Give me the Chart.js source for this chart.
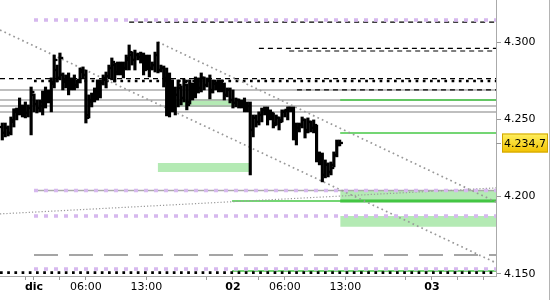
<!DOCTYPE html>
<html>
<head>
<meta charset="utf-8">
<script src="https://cdn.jsdelivr.net/npm/chart.js@4.4.0/dist/chart.umd.min.js"></script>
<style>
  html, body { margin: 0; padding: 0; background: #fff; }
  #wrap { width: 550px; height: 300px; box-sizing: border-box; border-right: 1px solid #b4b4b4; }
  canvas { display: block; }
</style>
</head>
<body>
<div id="wrap"><canvas id="chart" width="549" height="300" style="width:549px;height:300px"></canvas></div>
<script>
// 20-minute bars, time in trading hours from 1 Dec 00:00 (23 trading hours per day)
const firstBarHour = -11 / 3;
const barStep = 1 / 3;

const opens = [4245.0, 4241.2, 4244.4, 4241.2, 4248.3, 4254.8, 4256.1, 4257.3, 4256.1, 4254.1,
  4257.3, 4265.8, 4259.9, 4257.3, 4258.6, 4263.8, 4265.8, 4262.5, 4274.2, 4281.9,
  4276.8, 4278.7, 4275.5, 4276.8, 4272.2, 4275.5, 4272.2, 4275.5, 4280.6, 4278.7,
  4252.8, 4261.2, 4263.8, 4267.7, 4272.2, 4273.5, 4275.5, 4278.0, 4283.2, 4285.1,
  4280.6, 4284.5, 4281.9, 4283.2, 4288.4, 4291.6, 4288.4, 4291.6, 4290.3, 4289.7,
  4283.2, 4288.4, 4283.2, 4285.1, 4291.6, 4281.9, 4283.2, 4276.8, 4262.5, 4270.3,
  4262.5, 4265.8, 4270.3, 4263.8, 4272.2, 4261.2, 4272.2, 4267.7, 4275.5, 4270.3,
  4276.8, 4272.2, 4275.5, 4269.0, 4272.9, 4271.6, 4274.2, 4270.3, 4265.8, 4269.0,
  4262.5, 4260.6, 4262.5, 4259.3, 4260.6, 4257.3, 4258.6, 4243.1, 4250.9, 4248.3,
  4252.8, 4256.1, 4254.8, 4250.9, 4252.8, 4247.6, 4250.9, 4249.6, 4254.8, 4256.1,
  4257.3, 4256.1, 4239.9, 4244.4, 4246.3, 4249.6, 4243.1, 4248.3, 4244.4, 4244.4,
  4226.9, 4223.7, 4214.0, 4220.5, 4215.9, 4220.5, 4226.9, 4233.4];
const highs = [4247.6, 4247.6, 4245.7, 4251.5, 4256.8, 4257.3, 4263.8, 4259.3, 4261.2, 4259.3,
  4270.9, 4266.4, 4262.5, 4262.5, 4268.3, 4270.9, 4269.0, 4276.8, 4291.6, 4285.1,
  4292.9, 4280.0, 4278.7, 4280.0, 4276.8, 4278.7, 4275.5, 4283.2, 4283.9, 4281.9,
  4265.8, 4267.0, 4270.3, 4275.5, 4275.5, 4278.7, 4280.6, 4285.1, 4289.7, 4286.4,
  4287.1, 4287.1, 4287.1, 4291.6, 4298.1, 4293.5, 4294.8, 4292.9, 4293.5, 4292.9,
  4291.6, 4291.6, 4287.1, 4293.5, 4300.0, 4285.1, 4284.5, 4283.2, 4280.0, 4275.5,
  4270.9, 4275.5, 4271.6, 4276.1, 4272.9, 4275.5, 4273.5, 4277.4, 4276.8, 4280.0,
  4277.4, 4276.8, 4278.7, 4275.5, 4274.2, 4275.5, 4275.5, 4273.5, 4270.3, 4270.3,
  4269.0, 4263.8, 4263.2, 4262.5, 4263.8, 4261.2, 4261.2, 4252.8, 4252.8, 4254.8,
  4257.3, 4258.0, 4258.0, 4256.1, 4254.1, 4252.8, 4251.5, 4256.1, 4256.1, 4258.0,
  4258.0, 4258.0, 4247.6, 4247.6, 4251.5, 4250.2, 4250.9, 4248.9, 4249.6, 4246.3,
  4228.9, 4228.2, 4223.7, 4221.8, 4222.4, 4228.9, 4236.6, 4236.6];
const lows = [4236.6, 4238.6, 4239.2, 4239.9, 4245.0, 4249.6, 4252.8, 4251.5, 4250.9, 4251.5,
  4239.9, 4254.8, 4254.1, 4254.8, 4252.8, 4257.3, 4260.6, 4254.8, 4270.3, 4274.2,
  4275.5, 4269.0, 4270.3, 4265.8, 4269.0, 4269.0, 4270.3, 4273.5, 4276.8, 4247.6,
  4250.9, 4258.0, 4261.2, 4262.5, 4263.8, 4272.2, 4270.3, 4276.8, 4275.5, 4274.2,
  4278.7, 4278.7, 4276.8, 4281.9, 4281.9, 4285.1, 4281.9, 4288.4, 4286.4, 4278.7,
  4281.9, 4277.4, 4281.9, 4280.6, 4280.0, 4280.6, 4270.9, 4252.2, 4251.5, 4254.8,
  4252.8, 4258.0, 4259.3, 4261.2, 4256.1, 4259.9, 4262.5, 4263.8, 4267.0, 4267.7,
  4269.0, 4270.9, 4263.2, 4267.0, 4269.0, 4267.7, 4267.7, 4262.5, 4264.5, 4260.6,
  4257.3, 4258.0, 4257.3, 4257.3, 4254.8, 4254.8, 4214.0, 4238.6, 4245.0, 4246.3,
  4248.3, 4252.8, 4246.3, 4249.6, 4244.4, 4246.3, 4243.1, 4248.3, 4251.5, 4249.6,
  4254.8, 4236.6, 4233.4, 4241.8, 4244.4, 4237.9, 4241.2, 4241.8, 4241.2, 4222.4,
  4220.5, 4209.5, 4212.1, 4212.7, 4214.0, 4219.2, 4225.7, 4232.8];
const closes = [4241.2, 4244.4, 4241.2, 4249.6, 4256.1, 4256.1, 4257.3, 4256.1, 4254.1, 4257.3,
  4267.7, 4259.9, 4257.3, 4261.2, 4265.8, 4267.7, 4267.7, 4272.9, 4288.4, 4276.8,
  4289.7, 4274.2, 4276.8, 4270.3, 4275.5, 4272.2, 4274.2, 4281.9, 4278.7, 4250.9,
  4262.5, 4263.8, 4269.0, 4272.2, 4273.5, 4276.8, 4278.0, 4283.2, 4287.1, 4280.6,
  4284.5, 4281.9, 4283.2, 4289.7, 4293.5, 4288.4, 4291.6, 4290.3, 4291.6, 4281.9,
  4288.4, 4283.2, 4285.1, 4291.6, 4281.9, 4283.2, 4275.5, 4259.3, 4272.2, 4262.5,
  4265.8, 4272.2, 4263.8, 4274.2, 4259.3, 4272.2, 4265.8, 4275.5, 4270.3, 4276.8,
  4272.2, 4275.5, 4267.7, 4272.9, 4271.6, 4274.2, 4270.3, 4265.8, 4269.0, 4262.5,
  4260.6, 4262.5, 4259.3, 4260.6, 4257.3, 4258.6, 4243.1, 4250.9, 4248.3, 4252.8,
  4256.1, 4254.8, 4250.9, 4254.1, 4246.3, 4250.9, 4248.3, 4254.8, 4255.4, 4257.3,
  4256.1, 4239.9, 4244.4, 4246.3, 4249.6, 4241.8, 4248.3, 4244.4, 4246.3, 4226.9,
  4223.7, 4214.0, 4220.5, 4215.9, 4218.5, 4226.9, 4233.4, 4234.7];

// axes
const xMin = -3.93, xMax = 53.41;
const yMin = 4148.6, yMax = 4327.2;
const yTicks = [4150, 4200, 4250, 4300];
const xTickHours = [-1, 0, 3, 6, 13, 20, 23, 26, 29, 36, 43, 46, 49, 52];
const xTickLabels = ['', 'dic', '', '06:00', '13:00', '', '02', '', '06:00', '13:00', '', '03', '', ''];
const boldLabels = ['dic', '02', '03'];

// horizontal levels: [fromHour, price]
const purpleLevels = [[0, 4314.2], [0, 4204.0], [0, 4187.5], [0, 4153.2]];
const grayLevels = [[xMin, 4269.0], [xMin, 4262.5], [xMin, 4258.6], [xMin, 4254.8], [0, 4204.0]];
const dashedLevels = [[11, 4312.9], [26, 4295.9], [29.5, 4294.2], [xMin, 4276.3], [30.4, 4269.0]];
const dottedLevels = [[0, 4274.8], [xMin, 4150.8]];
const longDashLevels = [[0, 4162.2]];
const greenLevels = [[35.4, 4262.5], [35.4, 4241.2], [22.9, 4197.2], [22.9, 4151.9]];
const greenThickLevels = [[35.4, 4197.2]];
// green zones: [fromHour, toHour, low, high]
const greenZones = [[15.5, 24.2, 4258.0, 4263.2], [14.3, 24.9, 4215.9, 4221.8],
  [35.4, xMax, 4197.5, 4204.0], [35.4, xMax, 4180.4, 4187.5]];
// trend lines: [h1, p1, h2, p2]
const trendLines = [[xMin, 4307.8, xMax, 4157.1], [14.33, 4300.0, xMax, 4196.5]];
const risingLines = [[xMin, 4188.8, xMax, 4205.6]];

const barHours = opens.map((_, i) => firstBarHour + i * barStep);
const lastClose = closes[closes.length - 1];

function seg(h1, p1, h2, p2, color, width, dash, order) {
  return {
    type: 'line', data: [{ x: h1, y: p1 }, { x: h2, y: p2 }],
    borderColor: color, borderWidth: width, borderDash: dash, borderCapStyle: 'butt',
    pointRadius: 0, fill: false, tension: 0, order: order
  };
}

const datasets = [];
greenZones.forEach(z => datasets.push({
  type: 'line', data: [{ x: z[0], y: z[3] }, { x: z[1], y: z[3] }],
  borderColor: 'transparent', borderWidth: 0, pointRadius: 0,
  fill: { value: z[2] }, backgroundColor: 'rgb(180,234,180)', order: 40
}));
grayLevels.forEach(l => datasets.push(seg(l[0], l[1], xMax, l[1], '#aaaaaa', 1.5, [], 30)));
longDashLevels.forEach(l => datasets.push(seg(l[0], l[1], xMax, l[1], '#888888', 1.5, [24, 11], 30)));
greenLevels.forEach(l => datasets.push(seg(l[0], l[1], xMax, l[1], '#46c846', 1.5, [], 25)));
greenThickLevels.forEach(l => datasets.push(seg(l[0], l[1], xMax, l[1], '#3cc03c', 3, [], 25)));
dashedLevels.forEach(l => datasets.push(seg(l[0], l[1], xMax, l[1], '#000', 1.2, [5, 4], 22)));
dottedLevels.forEach(l => datasets.push(seg(l[0], l[1], xMax, l[1], '#000', 2.7, [2.7, 4.5], 22)));
trendLines.forEach(t => datasets.push(seg(t[0], t[1], t[2], t[3], '#999999', 1.7, [1.7, 3.2], 21)));
risingLines.forEach(t => datasets.push(seg(t[0], t[1], t[2], t[3], '#999999', 1.2, [1.2, 2], 21)));
purpleLevels.forEach(l => datasets.push(seg(l[0], l[1], xMax, l[1], 'rgb(214,184,238)', 3.5, [4, 6], 20)));

datasets.push({
  type: 'bar', data: barHours.map((h, i) => ({ x: h, y: [lows[i], highs[i]] })),
  backgroundColor: '#000', borderWidth: 0, barThickness: 2.5, order: 2
});
datasets.push({
  type: 'scatter', data: barHours.map((h, i) => ({ x: h, y: opens[i] })),
  pointStyle: 'dash', pointRadius: 3.3, pointBorderWidth: 2.3, pointBorderColor: '#000',
  pointRotation: 180, order: 1
});
datasets.push({
  type: 'scatter', data: barHours.map((h, i) => ({ x: h, y: closes[i] })),
  pointStyle: 'dash', pointRadius: 3.3, pointBorderWidth: 2.3, pointBorderColor: '#000',
  pointRotation: 0, order: 1
});

function fmtPrice(v) {
  const s = v.toFixed(1);
  return s.slice(0, 1) + '.' + s.slice(1, 4) + ',' + s.slice(5);
}

const lastPriceLabel = {
  id: 'lastPriceLabel',
  afterDraw(chart) {
    const { ctx, chartArea, scales } = chart;
    const py = Math.round(scales.y.getPixelForValue(lastClose));
    const x0 = chartArea.right + 6, w = chart.width - x0 - 1, h = 19;
    ctx.save();
    ctx.strokeStyle = '#999';
    ctx.lineWidth = 1;
    ctx.beginPath();
    ctx.moveTo(chartArea.right, py + 0.5);
    ctx.lineTo(chartArea.right + 5, py + 0.5);
    ctx.stroke();
    const g = ctx.createLinearGradient(0, py - h / 2, 0, py + h / 2);
    g.addColorStop(0, '#fff060');
    g.addColorStop(1, '#f2c200');
    ctx.fillStyle = g;
    ctx.fillRect(x0, py - h / 2, w, h);
    ctx.strokeStyle = '#d0a400';
    ctx.strokeRect(x0 + 0.5, py - h / 2 + 0.5, w - 1, h - 1);
    ctx.fillStyle = '#000';
    ctx.font = '11px "DejaVu Sans"';
    ctx.textAlign = 'center';
    ctx.textBaseline = 'middle';
    ctx.fillText(fmtPrice(lastClose), x0 + w / 2, py + 1);
    ctx.restore();
  }
};

new Chart(document.getElementById('chart'), {
  type: 'bar',
  data: { datasets: datasets },
  options: {
    responsive: false,
    animation: false,
    layout: { padding: 0, autoPadding: false },
    plugins: { legend: { display: false }, tooltip: { enabled: false } },
    scales: {
      x: {
        type: 'linear', min: xMin, max: xMax, offset: false,
        afterBuildTicks: s => { s.ticks = xTickHours.map(v => ({ value: v })); },
        afterFit: s => { s.height = 24; s.paddingLeft = 0; s.paddingRight = 0; },
        grid: { offset: false, drawOnChartArea: false, drawTicks: true, tickLength: 4, color: '#999' },
        border: { display: true, color: '#aaa' },
        ticks: {
          autoSkip: false, maxRotation: 0, padding: 1, color: '#000',
          callback: (v, i) => xTickLabels[i],
          font: c => ({ family: 'DejaVu Sans', size: 11,
            weight: boldLabels.includes(xTickLabels[c.index]) ? 'bold' : 'normal' })
        }
      },
      y: {
        type: 'linear', position: 'right', min: yMin, max: yMax,
        afterBuildTicks: s => { s.ticks = yTicks.map(v => ({ value: v })); },
        afterFit: s => { s.width = 53; s.paddingTop = 0; s.paddingBottom = 0; },
        grid: { drawOnChartArea: false, drawTicks: true, tickLength: 5, color: '#999' },
        border: { display: true, color: '#aaa' },
        ticks: {
          padding: 3, color: '#000', font: { family: 'DejaVu Sans', size: 11 },
          callback: v => (v / 1000).toFixed(3)
        }
      }
    }
  },
  plugins: [lastPriceLabel]
});
</script>
</body>
</html>
